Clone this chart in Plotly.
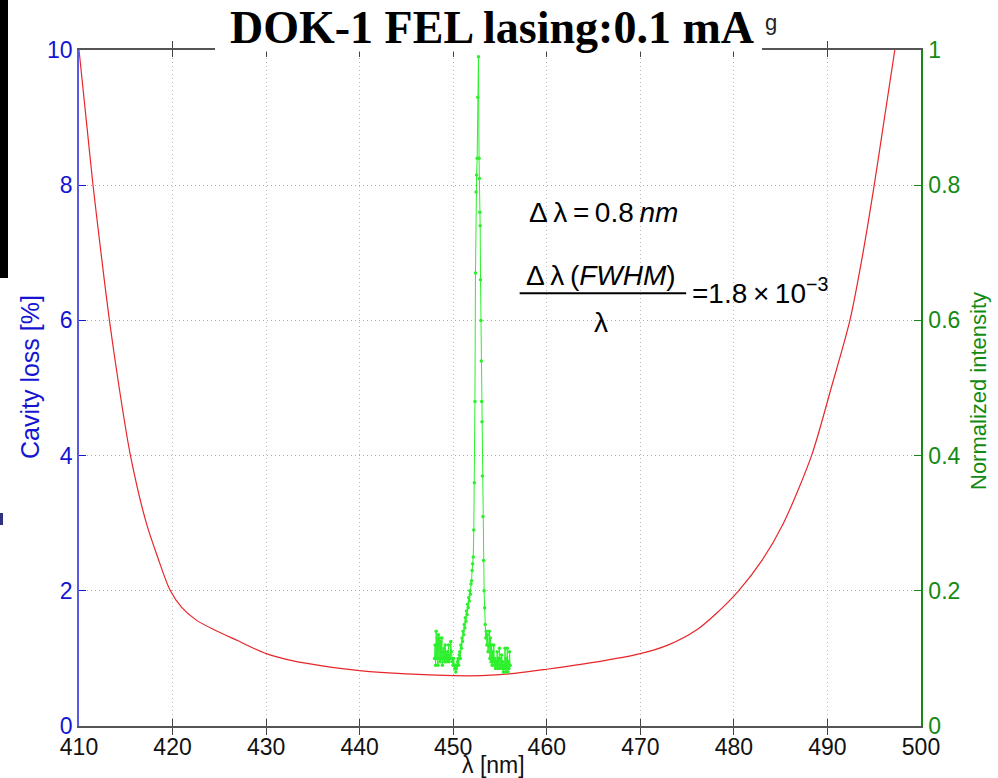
import plotly.graph_objects as go

# ---- data ----
loss_wl = [410.0, 410.75, 411.5, 412.35, 413.25, 414.3, 415.5, 417.2, 418.4, 419.7, 421.0,
           422.5, 424.5, 427.0, 430.0, 433.0, 436.0, 440.0, 445.0, 450.0, 453.0, 456.0,
           460.0, 465.0, 470.0, 473.0, 476.0, 478.0, 480.5, 483.0, 485.3, 488.3,
           490.4, 492.4, 493.8, 495.0, 496.1, 497.2, 498.3]
loss_pct = [10.0, 9.0, 8.0, 7.0, 6.0, 5.0, 4.0, 3.0, 2.5, 2.02, 1.75,
            1.57, 1.42, 1.26, 1.07, 0.96, 0.89, 0.82, 0.77, 0.745, 0.745, 0.77,
            0.84, 0.94, 1.07, 1.2, 1.42, 1.65, 2.0, 2.45, 3.0, 4.0,
            5.0, 6.0, 7.0, 8.0, 9.0, 10.0, 11.0]

spec_wl = [448.00, 448.06, 448.12, 448.18, 448.24, 448.30, 448.36, 448.42, 448.48, 448.54,
           448.60, 448.66, 448.72, 448.78, 448.84, 448.90, 448.96, 449.02, 449.08, 449.14,
           449.20, 449.26, 449.32, 449.38, 449.44, 449.50, 449.56, 449.62, 449.68, 449.74,
           449.80, 449.86, 449.92, 449.98, 450.04, 450.10, 450.16, 450.22, 450.28, 450.34,
           450.40, 450.46, 450.52, 450.58, 450.64, 450.70, 450.76, 450.82, 450.88, 450.94,
           451.00, 451.06, 451.12, 451.18, 451.24, 451.30, 451.36, 451.42, 451.48, 451.54,
           451.60, 451.66, 451.72, 451.78, 451.84, 451.90, 451.96, 452.02, 452.08, 452.14,
           452.20, 452.26, 452.32, 452.38, 452.44, 452.50, 452.56, 452.62, 452.70, 452.76,
           452.80, 452.84, 452.88, 452.92, 452.96, 453.00, 453.04, 453.08, 453.12, 453.18,
           453.24, 453.30, 453.36, 453.42, 453.48, 453.54, 453.60, 453.66, 453.72, 453.80,
           453.86, 453.92, 453.98, 454.04, 454.10, 454.16, 454.22, 454.28, 454.34, 454.40,
           454.46, 454.52, 454.58, 454.64, 454.70, 454.76, 454.82, 454.88, 454.94, 455.00,
           455.06, 455.12, 455.18, 455.24, 455.30, 455.36, 455.42, 455.48, 455.54, 455.60,
           455.66, 455.72, 455.78, 455.84, 455.90, 455.96, 456.02, 456.08]
spec_int = [0.10, 0.12, 0.09, 0.14, 0.10, 0.13, 0.09, 0.135, 0.10, 0.13,
            0.095, 0.125, 0.10, 0.13, 0.09, 0.11, 0.10, 0.115, 0.095, 0.12,
            0.10, 0.105, 0.095, 0.11, 0.10, 0.12, 0.095, 0.105, 0.10, 0.125,
            0.11, 0.10, 0.095, 0.09, 0.10, 0.09, 0.085, 0.09, 0.08, 0.085,
            0.09, 0.095, 0.10, 0.09, 0.105, 0.11, 0.10, 0.12, 0.115, 0.13,
            0.125, 0.14, 0.135, 0.15, 0.145, 0.16, 0.155, 0.17, 0.165, 0.18,
            0.175, 0.19, 0.185, 0.20, 0.195, 0.21, 0.215, 0.23, 0.24, 0.25,
            0.29, 0.36, 0.48, 0.67, 0.79, 0.815, 0.84, 0.93, 0.99, 0.84,
            0.81, 0.76, 0.74, 0.66, 0.60, 0.54, 0.48, 0.45, 0.37, 0.31,
            0.245, 0.20, 0.175, 0.15, 0.13, 0.14, 0.12, 0.135, 0.11, 0.12,
            0.14, 0.10, 0.13, 0.095, 0.12, 0.09, 0.11, 0.095, 0.12, 0.09,
            0.10, 0.085, 0.095, 0.09, 0.11, 0.085, 0.10, 0.09, 0.115, 0.085,
            0.10, 0.09, 0.105, 0.085, 0.095, 0.08, 0.09, 0.085, 0.115, 0.08,
            0.10, 0.085, 0.115, 0.08, 0.095, 0.085, 0.11, 0.09]

x_ticks = [410, 420, 430, 440, 450, 460, 470, 480, 490, 500]
y1_ticks = [0, 2, 4, 6, 8, 10]
y2_ticks = [0, 0.2, 0.4, 0.6, 0.8, 1]
y2_labels = ["0", "0.2", "0.4", "0.6", "0.8", "1"]

BLUE = "#1414d2"
GREEN = "#138a13"
SANS = "Liberation Sans, Arial, Helvetica, sans-serif"
NARROW = "Liberation Sans Narrow, Arial Narrow, Liberation Sans, sans-serif"
TS = "\u2009"  # thin space

# pixel -> paper helpers (plot area: x 79..921, y 50..726)
def px(xp):
    return (xp - 79) / 842

def py(yp):
    return (726 - yp) / 676

fig = go.Figure()
fig.add_trace(go.Scatter(x=loss_wl, y=loss_pct, mode="lines",
                         line=dict(color="#e8262a", width=1.2, shape="spline", smoothing=0.8),
                         showlegend=False, yaxis="y"))
fig.add_trace(go.Scatter(x=spec_wl, y=spec_int, mode="lines+markers",
                         line=dict(color="#2cf02c", width=1),
                         marker=dict(color="#2cf02c", size=3.5),
                         showlegend=False, yaxis="y2"))

fig.update_layout(
    width=998, height=778,
    margin=dict(l=79, r=77, t=50, b=52),
    paper_bgcolor="white", plot_bgcolor="white",
    xaxis=dict(range=[410, 500], tickvals=x_ticks, ticks="inside", ticklen=7,
               tickcolor="#444", showline=True, linecolor="#555", linewidth=1.5,
               mirror="allticks", showgrid=True, gridcolor="#b8b8b8", griddash="1px,3px",
               gridwidth=1, zeroline=False, automargin=False, ticklabelstandoff=0,
               tickfont=dict(family=NARROW, size=23, color="#111")),
    yaxis=dict(range=[0, 10], tickvals=y1_ticks, ticks="inside", ticklen=7,
               tickcolor=BLUE, showline=True, linecolor="#5a5ae6", linewidth=1.5,
               showgrid=True, gridcolor="#a0a0ee", griddash="1px,3px", gridwidth=1,
               zeroline=False, ticklabelstandoff=0, automargin=False,
               tickfont=dict(family=SANS, size=23, color=BLUE)),
    yaxis2=dict(range=[0, 1], tickvals=y2_ticks, ticktext=y2_labels, overlaying="y",
                side="right", ticks="inside", ticklen=7, tickcolor=GREEN,
                showline=True, linecolor=GREEN, linewidth=1.5, showgrid=False,
                zeroline=False, ticklabelstandoff=1, automargin=False,
                tickfont=dict(family=SANS, size=23, color=GREEN)),
)

# axis titles
fig.add_annotation(text="λ [nm]", xref="paper", yref="paper", x=px(493), y=py(765),
                   xanchor="center", yanchor="middle", showarrow=False,
                   font=dict(family=NARROW, size=23, color="#111"))
fig.add_annotation(text="Cavity loss [%]", xref="paper", yref="paper", x=px(30), y=py(377),
                   xanchor="center", yanchor="middle", textangle=-90, showarrow=False,
                   font=dict(family=SANS, size=25, color=BLUE))
fig.add_annotation(text="Normalized intensity", xref="paper", yref="paper", x=px(978), y=py(391),
                   xanchor="center", yanchor="middle", textangle=-90, showarrow=False,
                   font=dict(family=SANS, size=22, color=GREEN))

# white backing that hides the top frame under the title
fig.add_shape(type="rect", xref="paper", yref="paper", x0=px(215), x1=px(762),
              y0=py(51.5), y1=1.08, fillcolor="white", line=dict(width=0),
              layer="above")
fig.add_annotation(text="<b>DOK-1 FEL lasing:0.1 mA</b>", xref="paper", yref="paper",
                   x=0.491, y=py(28), xanchor="center", yanchor="middle",
                   font=dict(family="Liberation Serif, Times New Roman, serif", size=46, color="black"),
                   showarrow=False)
fig.add_annotation(text="g", xref="paper", yref="paper", x=px(763), y=py(22),
                   xanchor="left", yanchor="middle",
                   font=dict(family=SANS, size=22, color="#222"), showarrow=False)

# Formula annotations
F = dict(family=SANS, size=28, color="black")
fig.add_annotation(text=f"Δ{TS}λ{TS}={TS}0.8{TS}<i>nm</i>", xref="x", yref="y", x=457.9, y=7.59,
                   xanchor="left", yanchor="middle", font=F, showarrow=False)
fig.add_annotation(text=f"Δ{TS}λ{TS}(<i>FWHM</i>)", xref="x", yref="y", x=465.8, y=6.66,
                   xanchor="center", yanchor="middle", font=F, showarrow=False)
fig.add_annotation(text="λ", xref="x", yref="y", x=465.8, y=5.97,
                   xanchor="center", yanchor="middle", font=F, showarrow=False)
fig.add_annotation(text=f"=1.8{TS}×{TS}10<sup>−3</sup>", xref="x", yref="y", x=475.3, y=6.44,
                   xanchor="left", yanchor="middle", font=F, showarrow=False)
fig.add_shape(type="line", xref="x", yref="y", x0=457.1, x1=474.9, y0=6.4, y1=6.4,
              line=dict(color="black", width=2))

# black strip and small mark at the left edge
fig.add_shape(type="rect", xref="paper", yref="paper", x0=px(0), x1=px(8),
              y0=py(278), y1=py(0), fillcolor="black", line=dict(width=0))
fig.add_shape(type="rect", xref="paper", yref="paper", x0=px(0), x1=px(3),
              y0=py(525), y1=py(513), fillcolor="#303080", line=dict(width=0))

fig.write_html("out.html")
